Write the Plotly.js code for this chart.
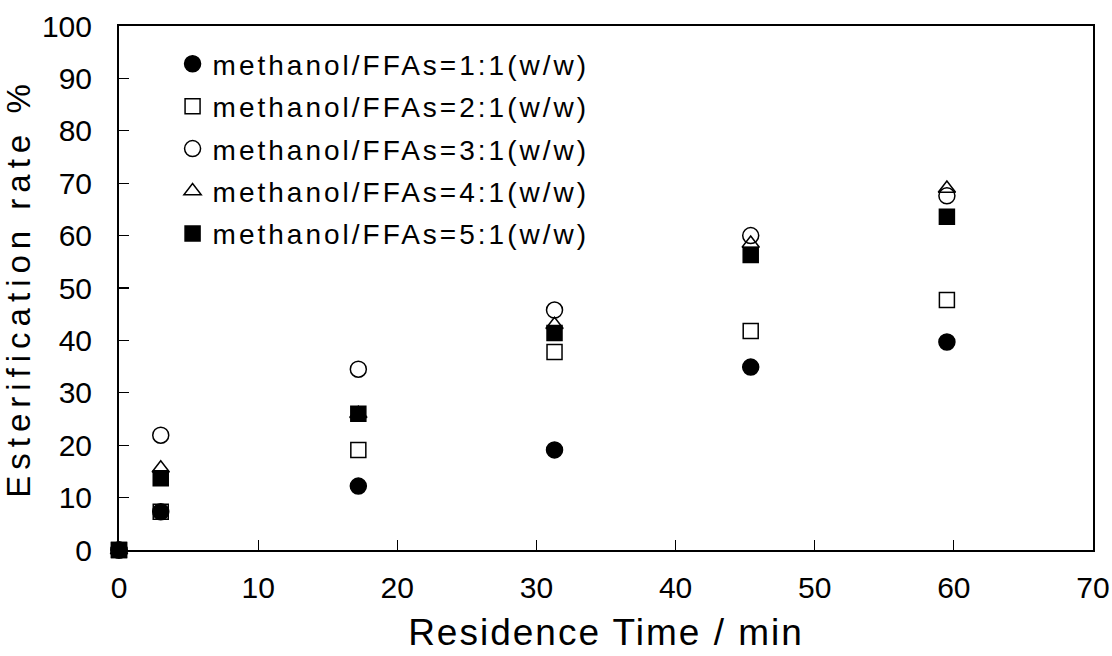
<!DOCTYPE html>
<html>
<head>
<meta charset="utf-8">
<script src="https://cdn.plot.ly/plotly-3.0.1.min.js"></script>
<style>
html,body{margin:0;padding:0;background:#fff;}
#chart{width:1112px;height:656px;}
.legendtext{letter-spacing:3px;}
.xtitle{letter-spacing:2px;}
.ytitle{letter-spacing:6px;}
</style>
</head>
<body>
<div id="chart"></div>
<script>
// Data
const residenceTime = [0, 3, 17.2, 31.3, 45.4, 59.5];
const ratio1 = [0, 7.3, 12.2, 19.1, 34.9, 39.7];
const ratio2 = [0, 7.3, 19.1, 37.8, 41.8, 47.7];
const ratio3 = [0, 21.9, 34.5, 45.8, 60.0, 67.6];
const ratio4 = [0, 15.6, 26.0, 43.0, 58.5, 69.0];
const ratio5 = [0, 13.7, 26.0, 41.4, 56.3, 63.6];
const seriesNames = [
  "methanol/FFAs=1:1(w/w)",
  "methanol/FFAs=2:1(w/w)",
  "methanol/FFAs=3:1(w/w)",
  "methanol/FFAs=4:1(w/w)",
  "methanol/FFAs=5:1(w/w)"
];
const xTicks = [0, 10, 20, 30, 40, 50, 60, 70];
const yTicks = [0, 10, 20, 30, 40, 50, 60, 70, 80, 90, 100];

const FONT = "Liberation Sans, Arial, sans-serif";
const series = [ratio1, ratio2, ratio3, ratio4, ratio5];
const symbols = ["circle", "square-open", "circle-open", "triangle-up-open", "square"];
const sizes = [16, 15, 16, 15, 15];

const traces = series.map((ys, i) => ({
  type: "scatter",
  mode: "markers",
  x: residenceTime,
  y: ys,
  name: seriesNames[i],
  legendgroup: "g" + i,
  cliponaxis: false,
  marker: {
    symbol: symbols[i],
    size: sizes[i],
    color: "#000",
    line: {color: "#000", width: 1.5}
  }
}));

const layout = {
  width: 1112,
  height: 656,
  margin: {l: 119, r: 19, t: 26, b: 106},
  paper_bgcolor: "#fff",
  plot_bgcolor: "#fff",
  font: {family: FONT, color: "#000", size: 28},
  showlegend: true,
  legend: {
    x: 0.055, xanchor: "left",
    y: 0.975, yanchor: "top",
    bgcolor: "rgba(0,0,0,0)",
    font: {family: FONT, size: 28, color: "#000"},
    tracegroupgap: 3
  },
  xaxis: {
    range: [0, 70],
    tickvals: xTicks,
    ticktext: xTicks.map(String),
    ticks: "inside",
    ticklen: 10,
    tickwidth: 1.2,
    tickcolor: "#000",
    showline: true,
    linecolor: "#000",
    linewidth: 2,
    mirror: true,
    showgrid: false,
    zeroline: false,
    ticklabelstandoff: 10,
    tickfont: {family: FONT, size: 30, color: "#000"},
    title: {text: "Residence Time / min", font: {family: FONT, size: 37, color: "#000"}, standoff: 16}
  },
  yaxis: {
    range: [0, 100],
    tickvals: yTicks,
    ticktext: yTicks.map(String),
    ticks: "inside",
    ticklen: 10,
    tickwidth: 1.2,
    tickcolor: "#000",
    showline: true,
    linecolor: "#000",
    linewidth: 2,
    mirror: true,
    showgrid: false,
    zeroline: false,
    ticklabelstandoff: 19,
    tickfont: {family: FONT, size: 30, color: "#000"},
    title: {text: "Esterification rate %", font: {family: FONT, size: 33, color: "#000"}, standoff: 14}
  }
};

Plotly.newPlot("chart", traces, layout, {displayModeBar: false, staticPlot: true});
</script>
</body>
</html>
